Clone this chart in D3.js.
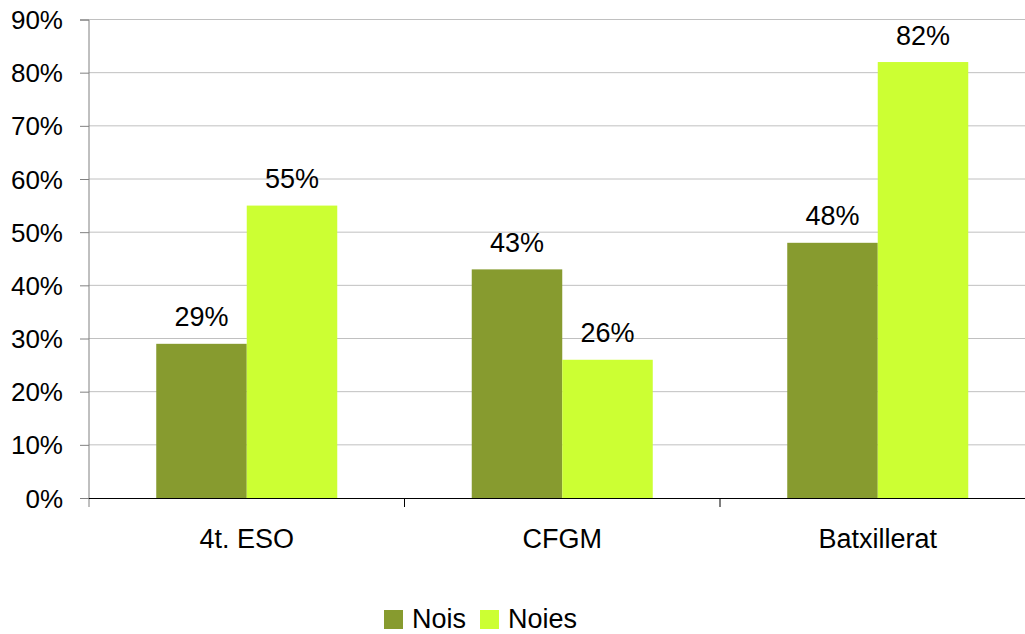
<!DOCTYPE html>
<html lang="ca">
<head>
	<meta charset="utf-8">
	<title>Nois i noies</title>
	<script src="https://cdn.jsdelivr.net/npm/d3@7"></script>
	<style>
		body { margin: 0; background: #fff; }
		text { font-family: "Liberation Sans", Arial, sans-serif; fill: #000; }
	</style>
</head>
<body>
	<script>
		// Data
		const categories = ["4t. ESO", "CFGM", "Batxillerat"];
		const series = ["Nois", "Noies"];
		const nois = [29, 43, 48];
		const noies = [55, 26, 82];
		const yTicks = [0, 10, 20, 30, 40, 50, 60, 70, 80, 90];

		const colors = ["#879b2f", "#ccff33"];

		const w = 1025;
		const h = 634;
		const plotLeft = 89;
		const plotRight = 1035.5;
		const plotTop = 19.5;
		const plotBottom = 498;

		const svg = d3.select("body")
			.append("svg")
			.attr("width", w)
			.attr("height", h);

		const x = d3.scaleBand()
			.domain(categories)
			.range([plotLeft, plotRight])
			.paddingInner(0)
			.paddingOuter(0);

		// bars take ~90px of each 315px category
		const xSub = d3.scaleBand()
			.domain(series)
			.range([0, x.bandwidth()])
			.paddingOuter(0.743)
			.paddingInner(0);

		const y = d3.scaleLinear()
			.domain([0, 90])
			.range([plotBottom, plotTop]);

		// Gridlines
		svg.append("g")
			.selectAll("line")
			.data(yTicks.slice(1))
			.enter()
			.append("line")
			.attr("x1", plotLeft)
			.attr("x2", w)
			.attr("y1", d => y(d))
			.attr("y2", d => y(d))
			.attr("stroke", "#c0c0c0")
			.attr("stroke-width", 1);

		// Bars
		const rows = categories.map((c, i) => ({ cat: c, vals: [nois[i], noies[i]] }));

		const groups = svg.selectAll("g.cat")
			.data(rows)
			.enter()
			.append("g")
			.attr("class", "cat")
			.attr("transform", d => `translate(${x(d.cat)},0)`);

		groups.selectAll("rect")
			.data(d => d.vals.map((v, j) => ({ s: series[j], v: v, j: j })))
			.enter()
			.append("rect")
			.attr("x", d => xSub(d.s))
			.attr("y", d => y(d.v))
			.attr("width", xSub.bandwidth())
			.attr("height", d => plotBottom - y(d.v))
			.attr("fill", d => colors[d.j]);

		groups.selectAll("text")
			.data(d => d.vals.map((v, j) => ({ s: series[j], v: v })))
			.enter()
			.append("text")
			.attr("x", d => xSub(d.s) + xSub.bandwidth() / 2)
			.attr("y", d => y(d.v) - 17.5)
			.attr("text-anchor", "middle")
			.attr("font-size", "27px")
			.text(d => d.v + "%");

		// Y axis
		const yAxis = d3.axisLeft(y)
			.tickValues(yTicks)
			.tickSize(9)
			.tickPadding(17)
			.tickFormat(d => d + "%");

		const gy = svg.append("g")
			.attr("transform", `translate(${plotLeft},0)`)
			.call(yAxis);
		gy.select(".domain").attr("stroke", "#808080").attr("d", `M-9,${plotTop + 0.5}H0V${plotBottom + 9}`);
		gy.selectAll(".tick line").attr("stroke", "#808080");
		gy.selectAll(".tick text")
			.attr("font-size", "26px")
			.attr("dy", "0.35em")
			.attr("fill", "#000");

		// X axis
		const xAxis = d3.axisBottom(x)
			.tickSize(0)
			.tickPadding(31);

		const gx = svg.append("g")
			.attr("transform", `translate(0,${plotBottom})`)
			.call(xAxis);
		gx.select(".domain").attr("stroke", "#000").attr("d", `M${plotLeft},0.5H${w}`);
		gx.selectAll(".tick text")
			.attr("font-size", "27px")
			.attr("fill", "#000");

		// Category separators
		gx.append("g")
			.selectAll("line")
			.data(categories.slice(1))
			.enter()
			.append("line")
			.attr("x1", d => x(d))
			.attr("x2", d => x(d))
			.attr("y1", 0)
			.attr("y2", 9)
			.attr("stroke", "#000");

		// Legend
		const legend = svg.append("g")
			.attr("transform", "translate(384,610)");
		const legendX = [0, 96];

		const items = legend.selectAll("g")
			.data(series)
			.enter()
			.append("g")
			.attr("transform", (d, i) => `translate(${legendX[i]},0)`);

		items.append("rect")
			.attr("width", 19)
			.attr("height", 19)
			.attr("fill", (d, i) => colors[i]);

		items.append("text")
			.attr("x", 28)
			.attr("y", 17.5)
			.attr("font-size", "27px")
			.text(d => d);
	</script>
</body>
</html>
